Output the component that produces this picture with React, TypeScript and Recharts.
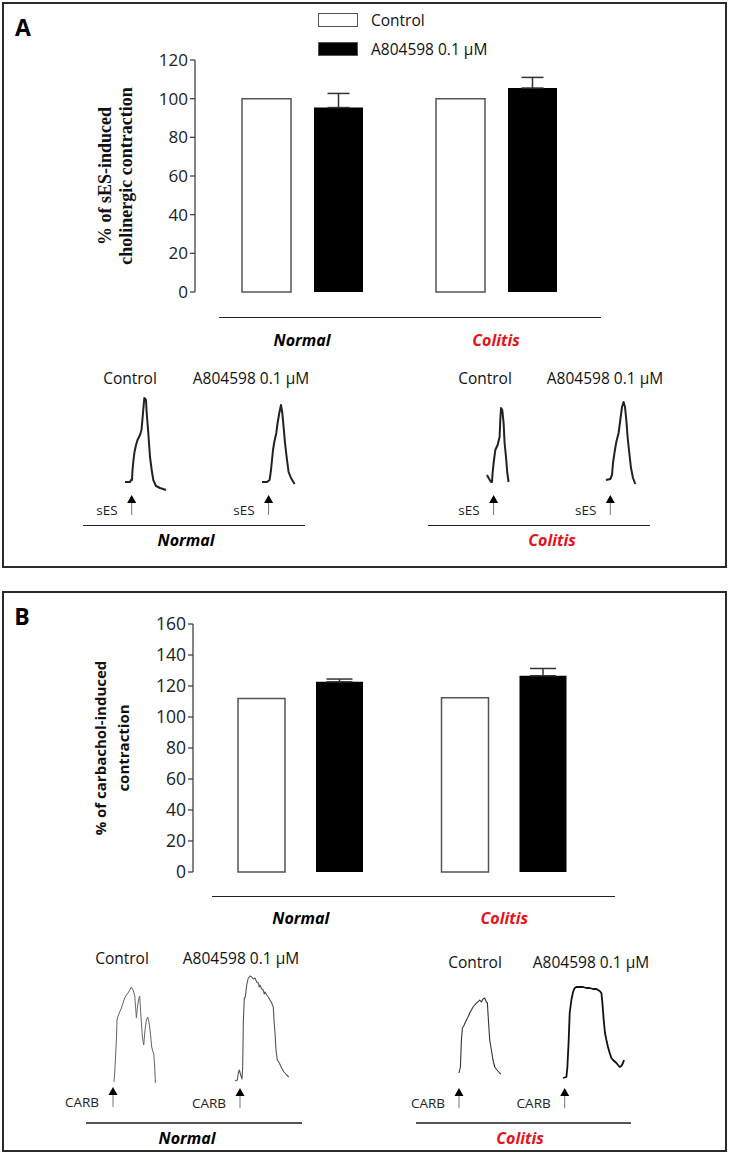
import React from "react";
import {
  BarChart,
  Bar,
  XAxis,
  YAxis,
  ErrorBar,
  Legend,
  Label,
  ComposedChart,
  Line,
  ReferenceDot,
} from "recharts";

const FONT = "'Open Sans', sans-serif";

// bar data
const groups = ["Normal", "Colitis"];
const groupColors = ["#000000", "#e5131a"];
const seriesNames = ["Control", "A804598 0.1 \u00b5M"];

const sesControl = [100, 100];
const sesDrug = [95.4, 105.5];
const sesDrugSem = [7.3, 5.5];
const sesTicks = [0, 20, 40, 60, 80, 100, 120];

const carbControl = [112, 112.5];
const carbDrug = [122.7, 126.6];
const carbDrugSem = [1.8, 4.7];
const carbTicks = [0, 20, 40, 60, 80, 100, 120, 140, 160];

// recording traces: [time, tension above baseline]
const sesNormalControl = [
  [0, 0], [5, 0], [6, 2], [7, 2], [7.5, 12], [8.5, 22], [9.5, 30], [11, 37], [12.5, 42],
  [15, 47], [16.5, 52], [18, 69], [19.3, 84], [21, 82], [21.7, 69], [23.3, 49], [25, 25],
  [26.7, 12], [28.3, 2], [31, -4], [35, -6], [41, -8],
];
const sesNormalDrug = [
  [0, 0], [5, 0], [7.6, 2], [9, 12], [10, 22], [11, 32], [12.3, 40], [14.3, 49], [15.6, 59],
  [17.3, 69], [19, 77], [20.3, 69], [21.6, 55], [23, 39], [25, 22], [26.6, 10], [29, 4], [32.6, -2],
];
const sesColitisControl = [
  [0, 7], [1.6, 4], [4, 0], [5, 0], [5.6, 9], [6.6, 19], [8.3, 32], [10.6, 37], [12.6, 45],
  [13.3, 62], [14, 74], [15.3, 72], [16.6, 59], [17.6, 39], [19, 25], [20.3, 9], [21.6, 0],
];
const sesColitisDrug = [
  [0, 2], [4.3, 3], [6, 7], [7, 19], [8.6, 30], [10.3, 40], [12.6, 49], [14.3, 62], [16, 75],
  [17.6, 80], [19, 75], [20.3, 62], [21.6, 45], [23.3, 29], [25, 14], [27, 4], [29.3, -2],
];
const carbNormalControl = [
  [0, 0], [0.7, 9], [2.4, 42], [3, 62], [4.4, 67], [5.7, 70], [7.4, 74], [9, 79], [10.7, 84],
  [12.4, 87], [14, 89], [15.7, 92], [17.4, 95], [19, 92], [20.7, 87], [22.4, 64], [23.7, 77],
  [25, 84], [25.7, 86], [27, 65], [28.4, 45], [29.7, 37], [31, 52], [32.4, 62], [33.7, 65],
  [35, 60], [36.4, 49], [37.7, 35], [39, 30], [39.7, 29], [40.7, 15], [41.4, -1],
];
const carbNormalDrug = [
  [0, 0], [2.3, 1], [3.3, 8], [4.3, 11], [5.7, 6], [7, 2], [7.7, 14], [8.3, 58], [9.3, 83],
  [10.3, 84], [11.7, 96], [13.3, 103], [15, 105], [16.7, 104], [18.3, 102], [20, 103],
  [21.7, 99], [23.3, 98], [24.2, 94], [25, 96], [26.7, 92], [28.3, 91], [29.2, 87], [30, 89],
  [31.7, 86], [33.3, 84], [35, 81], [36.7, 78], [38.3, 74], [39, 61], [40, 48], [41, 31],
  [42.3, 21], [44.3, 18], [46.7, 13], [49, 9], [51.7, 6], [53.7, 4],
];
const carbColitisControl = [
  [0, 1], [1.4, 7], [2.4, 34], [3.4, 46], [4.7, 48], [6, 51], [7.4, 54], [9, 57], [10.7, 61],
  [12.4, 64], [14, 67], [15.7, 69], [17.4, 71], [19, 72], [20.7, 74], [22.4, 72], [24, 75],
  [25.7, 76], [27.4, 72], [28.4, 71], [29.4, 54], [30.7, 34], [32.4, 24], [34, 14], [35.7, 7],
  [38, 4], [40.7, 1], [41.7, 0],
];
const carbColitisDrug = [
  [0, 0], [3.4, 1], [4.4, 11], [5.7, 38], [6.7, 65], [8.4, 78], [10, 86], [11.7, 90],
  [13.4, 91], [16.7, 91], [20, 91], [23.4, 90], [26.7, 90], [30, 89], [33.4, 89], [36.7, 87],
  [38.4, 85], [39.4, 75], [40.7, 58], [42, 45], [43.4, 38], [45, 31], [46.7, 25], [48.4, 20],
  [50, 18], [53.4, 15], [56.7, 11], [58.4, 12], [60, 15], [61, 18],
];

// stimulus time / arrow tip level for each trace
const sesStims = [[6.7, -13], [6.6, -13], [6.6, -13], [4.3, -13]];
const carbStims = [[-1, -5], [5, -7], [0, -14], [1.7, -10]];

const T_DOMAIN = [-60, 75];
const A_DOMAIN = [-45, 115];

const traces = [
  { points: sesNormalControl, stim: sesStims[0], text: "sES", x0: 125, y0: 482, stroke: "#222", w: 2 },
  { points: sesNormalDrug, stim: sesStims[1], text: "sES", x0: 261.7, y0: 482, stroke: "#222", w: 2 },
  { points: sesColitisControl, stim: sesStims[2], text: "sES", x0: 486.7, y0: 482, stroke: "#222", w: 2 },
  { points: sesColitisDrug, stim: sesStims[3], text: "sES", x0: 605.7, y0: 482, stroke: "#222", w: 2 },
  { points: carbNormalControl, stim: carbStims[0], text: "CARB", x0: 114.3, y0: 1082, stroke: "#666", w: 1 },
  { points: carbNormalDrug, stim: carbStims[1], text: "CARB", x0: 235, y0: 1081, stroke: "#555", w: 1.1 },
  { points: carbColitisControl, stim: carbStims[2], text: "CARB", x0: 459.3, y0: 1074, stroke: "#333", w: 1.1 },
  { points: carbColitisDrug, stim: carbStims[3], text: "CARB", x0: 563.3, y0: 1078, stroke: "#111", w: 1.8 },
];

const traceLabels = [
  { text: seriesNames[0], x: 130, y: 378 },
  { text: seriesNames[1], x: 251, y: 378 },
  { text: seriesNames[0], x: 485, y: 378 },
  { text: seriesNames[1], x: 605, y: 378 },
  { text: seriesNames[0], x: 122, y: 958 },
  { text: seriesNames[1], x: 241, y: 958 },
  { text: seriesNames[0], x: 475, y: 962 },
  { text: seriesNames[1], x: 591, y: 962 },
];

const sesData = groups.map((g, i) => ({ group: g, control: sesControl[i], drug: sesDrug[i], sem: sesDrugSem[i] }));
const carbData = groups.map((g, i) => ({ group: g, control: carbControl[i], drug: carbDrug[i], sem: carbDrugSem[i] }));

const GroupTick = (props: any) => {
  const { x, y, payload } = props;
  const i = groups.indexOf(payload.value);
  return (
    <text x={x} y={y} textAnchor="middle" dominantBaseline="central" fontFamily={FONT}
      fontSize={16} fontWeight="bold" fontStyle="italic" fill={groupColors[i]}>
      {payload.value}
    </text>
  );
};

const axisTitle = (lines: string[], xs: number[], style: any) => (props: any) => {
  const vb = props.viewBox;
  const cy = vb.y + vb.height / 2;
  return (
    <g>
      {lines.map((l, i) => (
        <text key={i} x={xs[i]} y={cy} transform={`rotate(-90 ${xs[i]} ${cy})`}
          textAnchor="middle" dominantBaseline="central" style={style}>
          {l}
        </text>
      ))}
    </g>
  );
};

const LegendBox = (props: any) => {
  const items = [...props.payload].sort(
    (a: any, b: any) => seriesNames.indexOf(a.value) - seriesNames.indexOf(b.value)
  );
  return (
    <div style={{ fontFamily: FONT, fontSize: 15.5, color: "#111" }}>
      {items.map((p: any, i: number) => (
        <div key={i} style={{ display: "flex", alignItems: "center", height: 29.5 }}>
          <span style={{ display: "inline-block", width: 40, height: 14, background: p.color,
            border: "1.5px solid #555", boxSizing: "border-box", marginRight: 13 }} />
          <span>{p.value}</span>
        </div>
      ))}
    </div>
  );
};

const StimArrow = (props: any) => {
  const { cx, cy, text } = props;
  return (
    <g>
      <polygon points={`${cx},${cy} ${cx - 4.5},${cy + 8} ${cx + 4.5},${cy + 8}`} fill="#000" />
      <line x1={cx} y1={cy + 8} x2={cx} y2={cy + 20} stroke="#777" strokeWidth={1} />
      <text x={cx - 14} y={cy + 15} textAnchor="end" dominantBaseline="central"
        fontFamily={FONT} fontSize={13.5} fill="#222">{text}</text>
    </g>
  );
};

function Trace({ cfg }: any) {
  const data = cfg.points.map(([t, a]: number[]) => ({ t, a }));
  const w = T_DOMAIN[1] - T_DOMAIN[0];
  const h = A_DOMAIN[1] - A_DOMAIN[0];
  return (
    <div style={{ position: "absolute", left: cfg.x0 + T_DOMAIN[0], top: cfg.y0 - A_DOMAIN[1] }}>
      <ComposedChart width={w} height={h} data={data} margin={{ top: 0, right: 0, bottom: 0, left: 0 }}>
        <XAxis type="number" dataKey="t" domain={T_DOMAIN} hide height={0} allowDataOverflow />
        <YAxis type="number" domain={A_DOMAIN} hide width={0} allowDataOverflow />
        <Line dataKey="a" type="linear" stroke={cfg.stroke} strokeWidth={cfg.w} dot={false}
          isAnimationActive={false} strokeLinejoin="round" />
        <ReferenceDot x={cfg.stim[0]} y={cfg.stim[1]}
          shape={(p: any) => <StimArrow {...p} text={cfg.text} />} />
      </ComposedChart>
    </div>
  );
}

const Txt = ({ x, y, children, style }: any) => (
  <div style={{ position: "absolute", left: x - 150, top: y - 12, width: 300, height: 24,
    lineHeight: "24px", textAlign: "center", whiteSpace: "nowrap", fontFamily: FONT,
    fontSize: 15.5, color: "#111", ...style }}>
    {children}
  </div>
);

const HLine = ({ x1, x2, y, color = "#222", w = 1.5 }: any) => (
  <div style={{ position: "absolute", left: x1, top: y - w / 2, width: x2 - x1, height: 0,
    borderTop: `${w}px solid ${color}` }} />
);

const groupLabelStyle = (i: number) => ({ fontWeight: "bold", fontStyle: "italic", fontSize: 16, color: groupColors[i] });

export default function App() {
  return (
    <div style={{ position: "absolute", left: 0, top: 0, width: 730, height: 1159, background: "#fff" }}>
      {/* panel frames */}
      <div style={{ position: "absolute", left: 2, top: 2, width: 725, height: 566, border: "2px solid #2a2a2a", boxSizing: "border-box" }} />
      <div style={{ position: "absolute", left: 2, top: 591, width: 725, height: 561, border: "2px solid #2a2a2a", boxSizing: "border-box" }} />

      <Txt x={23} y={27} style={{ fontWeight: "bold", fontSize: 23, color: "#000" }}>A</Txt>
      <Txt x={22} y={616} style={{ fontWeight: "bold", fontSize: 23, color: "#000" }}>B</Txt>

      {/* panel A bars */}
      <div style={{ position: "absolute", left: 0, top: 0 }}>
        <BarChart width={730} height={352} data={sesData} margin={{ top: 60, right: 137, bottom: 0, left: 0 }}
          barSize={49} barGap={23}>
          <XAxis dataKey="group" height={60} padding={{ left: 10, right: 0 }} axisLine={false}
            tickLine={false} tickSize={0} tickMargin={48} tick={<GroupTick />} />
          <YAxis width={195} domain={[0, 120]} ticks={sesTicks} tickSize={5} interval={0}
            axisLine={{ stroke: "#333", strokeWidth: 1.2 }} tickLine={{ stroke: "#333", strokeWidth: 1.2 }}
            tick={{ fontFamily: FONT, fontSize: 17, fill: "#222" }}>
            <Label content={axisTitle(["% of sES-induced", "cholinergic contraction"], [105, 126],
              { fontFamily: "'Liberation Serif', serif", fontWeight: "bold", fontSize: 18, fill: "#111" })} />
          </YAxis>
          <Legend layout="horizontal" verticalAlign="middle" align="center"
            wrapperStyle={{ left: 318, top: 5, width: 260 }} content={<LegendBox />} />
          <Bar dataKey="control" name={seriesNames[0]} fill="#ffffff" stroke="#555" strokeWidth={1.5}
            isAnimationActive={false} />
          <Bar dataKey="drug" name={seriesNames[1]} fill="#000000" isAnimationActive={false}>
            <ErrorBar dataKey={(d: any) => [0, d.sem]} width={11} stroke="#333" strokeWidth={1.5} />
          </Bar>
        </BarChart>
      </div>
      <HLine x1={219} x2={601} y={318} />

      {/* panel B bars */}
      <div style={{ position: "absolute", left: 0, top: 580 }}>
        <BarChart width={730} height={352} data={carbData} margin={{ top: 44, right: 124, bottom: 0, left: 0 }}
          barSize={47} barGap={31}>
          <XAxis dataKey="group" height={60} padding={{ left: 6, right: 0 }} axisLine={false}
            tickLine={false} tickSize={0} tickMargin={46} tick={<GroupTick />} />
          <YAxis width={193} domain={[0, 160]} ticks={carbTicks} tickSize={5} interval={0}
            axisLine={{ stroke: "#333", strokeWidth: 1.2 }} tickLine={{ stroke: "#333", strokeWidth: 1.2 }}
            tick={{ fontFamily: FONT, fontSize: 17.5, fill: "#222" }}>
            <Label content={axisTitle(["% of carbachol-induced", "contraction"], [100, 123],
              { fontFamily: FONT, fontWeight: "bold", fontSize: 15, fill: "#111" })} />
          </YAxis>
          <Bar dataKey="control" name={seriesNames[0]} fill="#ffffff" stroke="#555" strokeWidth={1.5}
            isAnimationActive={false} />
          <Bar dataKey="drug" name={seriesNames[1]} fill="#000000" isAnimationActive={false}>
            <ErrorBar dataKey={(d: any) => [0, d.sem]} width={13} stroke="#333" strokeWidth={1.5} />
          </Bar>
        </BarChart>
      </div>
      <HLine x1={212} x2={615} y={897} />

      {/* recordings */}
      {traces.map((c, i) => <Trace key={i} cfg={c} />)}
      {traceLabels.map((l, i) => <Txt key={i} x={l.x} y={l.y}>{l.text}</Txt>)}

      <HLine x1={83} x2={305} y={526} />
      <HLine x1={428} x2={650} y={526} />
      <Txt x={186} y={540} style={groupLabelStyle(0)}>{groups[0]}</Txt>
      <Txt x={552} y={540} style={groupLabelStyle(1)}>{groups[1]}</Txt>

      <HLine x1={86} x2={302} y={1123} color="#555" w={2} />
      <HLine x1={416} x2={631} y={1123} color="#555" w={2} />
      <Txt x={187} y={1138} style={groupLabelStyle(0)}>{groups[0]}</Txt>
      <Txt x={520} y={1138} style={groupLabelStyle(1)}>{groups[1]}</Txt>
    </div>
  );
}
